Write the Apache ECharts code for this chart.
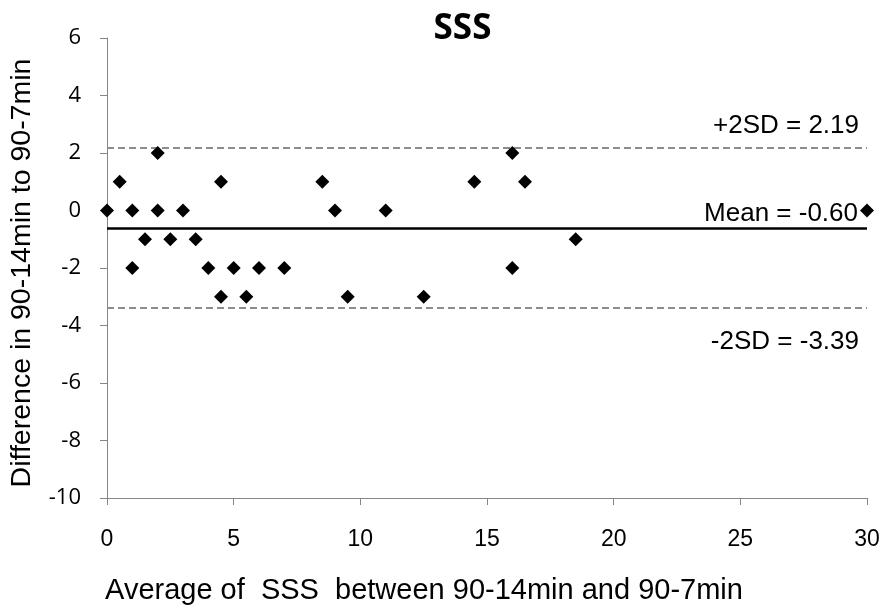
<!DOCTYPE html>
<html>
<head>
<meta charset="utf-8">
<script src="https://cdn.jsdelivr.net/npm/echarts@6/dist/echarts.min.js"></script>
<style>html,body{margin:0;padding:0;background:#fff;}#c{width:885px;height:610px;}</style>
</head>
<body>
<div id="c"></div>
<script>
var avgValues = [0, 0.5, 1, 1, 1.5, 2, 2, 2.5, 3, 3.5, 4, 4.5, 4.5, 5, 5.5, 6, 7, 8.5, 9, 9.5, 11, 12.5, 14.5, 16, 16, 16.5, 18.5, 30];
var diffValues = [0, 1, 0, -2, -1, 2, 0, -1, 0, -1, -2, 1, -3, -2, -3, -2, -2, 1, 0, -3, 0, -3, 1, 2, -2, 1, -1, 0];
var meanValue = -0.60;
var upperSD = 2.19;
var lowerSD = -3.39;
var titleText = 'SSS';
var xTitle = 'Average of  SSS  between 90-14min and 90-7min';
var yTitle = 'Difference in 90-14min to 90-7min';

var points = avgValues.map(function (x, i) { return [x, diffValues[i]]; });
var chart = echarts.init(document.getElementById('c'), null, {renderer: 'canvas'});
var annotFont = {fontFamily: 'Liberation Sans, Arial, sans-serif', fontSize: 26, color: '#000'};
chart.setOption({
  animation: false,
  backgroundColor: '#fff',
  title: {
    text: titleText, left: 457.5, top: 7, textAlign: 'center',
    textStyle: {fontFamily: 'Open Sans', fontWeight: 'bold', fontSize: 35, color: '#000'}
  },
  grid: {left: 104, right: 18, top: 38, bottom: 107.5},
  xAxis: {
    type: 'value', min: 0, max: 30, interval: 5,
    name: xTitle, nameLocation: 'middle', nameGap: 78,
    nameTextStyle: {fontFamily: 'Liberation Sans, Arial', fontSize: 29, color: '#000', padding: [0, 126, 0, 0]},
    axisLine: {show: true, onZero: false, lineStyle: {color: '#868686', width: 1}},
    axisTick: {show: true, inside: false, length: 7, lineStyle: {color: '#868686'}},
    axisLabel: {margin: 30, fontFamily: 'Liberation Sans, Arial', fontSize: 23, color: '#000'},
    splitLine: {show: false}
  },
  yAxis: {
    type: 'value', min: -10, max: 6, interval: 2,
    name: yTitle, nameLocation: 'middle', nameGap: 70, nameRotate: 90,
    nameTextStyle: {fontFamily: 'Liberation Sans, Arial', fontSize: 28.5, color: '#000', padding: [0, 10, 0, 0]},
    axisLine: {show: true, onZero: false, lineStyle: {color: '#868686', width: 1}},
    axisTick: {show: true, inside: false, length: 7, lineStyle: {color: '#868686'}},
    axisLabel: {margin: 26, fontFamily: 'Open Sans', fontSize: 22, color: '#000'},
    splitLine: {show: false}
  },
  series: [{
    type: 'scatter',
    data: points,
    symbol: 'diamond',
    symbolSize: [14, 14],
    itemStyle: {color: '#000', opacity: 1},
    z: 5,
    markLine: {
      silent: true,
      symbol: ['none', 'none'],
      animation: false,
      data: [
        {yAxis: upperSD, lineStyle: {color: '#8c8c8c', type: [7, 4], width: 2, opacity: 1},
          label: {show: true, position: 'insideEndTop', distance: [8, 8.5], formatter: '+2SD = ' + upperSD.toFixed(2), textStyle: annotFont}},
        {yAxis: meanValue, lineStyle: {color: '#000', type: 'solid', width: 2.5, opacity: 1},
          label: {show: true, position: 'insideEndTop', distance: [9, 1], formatter: 'Mean = ' + meanValue.toFixed(2), textStyle: annotFont}},
        {yAxis: lowerSD, lineStyle: {color: '#8c8c8c', type: [7, 4], width: 2, opacity: 1},
          label: {show: true, position: 'insideEndBottom', distance: [8, 21], formatter: '-2SD = ' + lowerSD.toFixed(2), textStyle: annotFont}}
      ]
    }
  }]
});
</script>
</body>
</html>
